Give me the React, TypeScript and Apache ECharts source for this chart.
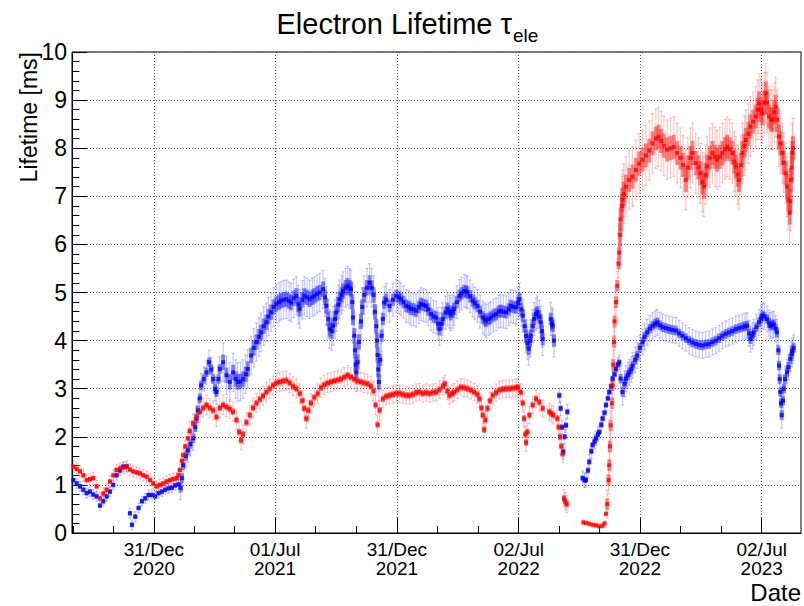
import { useEffect, useRef } from "react";
import * as echarts from "echarts";

const DAY = 86400000;
// Day offsets below are counted from 31 Dec 2020 (UTC).
const ORIGIN = Date.UTC(2020, 11, 31);
const X_MIN = Date.UTC(2020, 7, 30);
const X_MAX = Date.UTC(2023, 7, 30);

const majorTickDates = ["2020-12-31", "2021-07-01", "2021-12-31", "2022-07-02", "2022-12-31", "2023-07-02"];
const majorTickLabels = ["31/Dec\n2020", "01/Jul\n2021", "31/Dec\n2021", "02/Jul\n2022", "31/Dec\n2022", "02/Jul\n2023"];

// Lifetime [ms] of the red series: [day offset, value]
const redLifetime: [number, number][] = [
  [-121, 1.38], [-116, 1.33], [-111, 1.28], [-106, 1.2], [-101, 1.1], [-96, 1.12], [-91, 1.14], [-86, 0.97],
  [-81, 0.72], [-76, 0.82], [-71, 0.9], [-66, 1.07], [-61, 1.2], [-56, 1.31], [-51, 1.34], [-46, 1.36],
  [-41, 1.38], [-36, 1.32], [-31, 1.28], [-26, 1.26], [-21, 1.24], [-16, 1.2], [-11, 1.17], [-6, 1.1],
  [-1, 1.03], [4, 0.97], [9, 1.0], [14, 1.03], [19, 1.07], [24, 1.1], [29, 1.12], [34, 1.14],
  [37, 1.2], [39, 1.31], [42, 1.5], [44, 1.62], [47, 1.8], [51, 1.97], [54, 2.12], [59, 2.28],
  [64, 2.4], [69, 2.52], [74, 2.6], [79, 2.66], [84, 2.6], [89, 2.55], [94, 2.41], [99, 2.6],
  [104, 2.66], [109, 2.62], [114, 2.58], [119, 2.52], [124, 2.35], [128, 2.1], [131, 1.93], [134, 2.05],
  [139, 2.3], [144, 2.45], [149, 2.6], [154, 2.7], [159, 2.78], [164, 2.85], [169, 2.93], [174, 3.0],
  [179, 3.07], [184, 3.12], [189, 3.14], [194, 3.16], [199, 3.17], [204, 3.12], [209, 3.05], [214, 3.0],
  [219, 2.9], [223, 2.75], [226, 2.59], [229, 2.38], [232, 2.55], [236, 2.7], [241, 2.82], [246, 2.9],
  [251, 3.02], [256, 3.08], [261, 3.12], [266, 3.14], [271, 3.16], [276, 3.18], [281, 3.2], [286, 3.24],
  [291, 3.28], [296, 3.24], [301, 3.2], [306, 3.16], [311, 3.14], [316, 3.12], [321, 3.1], [326, 3.05],
  [330, 2.95], [333, 2.66], [336, 2.25], [339, 2.55], [344, 2.79], [349, 2.84], [354, 2.86], [359, 2.88],
  [364, 2.9], [369, 2.9], [374, 2.88], [379, 2.86], [384, 2.86], [389, 2.88], [394, 2.92], [399, 2.93],
  [404, 2.9], [409, 2.92], [414, 2.9], [419, 2.92], [424, 2.93], [429, 2.98], [434, 3.05], [437, 3.1],
  [441, 2.95], [444, 2.86], [448, 2.9], [451, 2.93], [456, 2.98], [461, 3.03], [466, 3.02], [471, 3.0],
  [476, 2.97], [481, 2.93], [486, 2.88], [489, 2.79], [492, 2.6], [494, 2.45], [496, 2.15], [498, 2.35],
  [501, 2.59], [505, 2.75], [509, 2.86], [514, 2.92], [519, 2.97], [524, 2.99], [529, 3.0], [534, 3.0],
  [539, 3.01], [544, 3.02], [547, 3.03], [551, 2.93], [554, 2.7], [556, 2.38], [558, 2.05], [559, 1.88],
  [561, 2.1], [564, 2.45], [569, 2.66], [574, 2.79], [579, 2.72], [584, 2.59],
  [594, 2.52], [597, 2.48], [600, 2.45],
  [606, 2.38], [608, 2.2], [610, 2.0], [612, 1.8], [614, 1.65],
  [616, 0.72], [618, 0.66], [620, 0.6],
  [645, 0.22], [649, 0.21], [654, 0.19], [659, 0.17], [664, 0.16], [669, 0.14], [674, 0.15], [677, 0.2],
  [679, 0.4], [681, 0.6], [683, 1.1], [684, 1.41], [685, 1.8], [686, 2.24], [688, 2.7], [689, 3.07],
  [690, 3.5], [691, 3.97], [692, 4.4], [694, 4.8], [696, 5.14], [698, 5.6], [699, 5.83], [700, 6.2],
  [701, 6.52], [703, 6.8], [704, 6.93], [706, 7.05], [709, 7.2], [714, 7.34], [719, 7.41], [724, 7.55],
  [729, 7.68], [734, 7.76], [739, 7.85], [744, 7.95], [749, 8.1], [754, 8.2], [758, 8.24], [762, 8.15],
  [766, 8.05], [771, 7.97], [776, 8.0], [781, 8.03], [786, 7.9], [791, 7.8], [795, 7.65], [799, 7.34],
  [802, 7.6], [806, 7.8], [809, 7.9], [814, 7.69], [818, 7.6], [821, 7.48], [824, 7.3], [826, 7.2],
  [829, 7.45], [831, 7.62], [835, 7.8], [839, 7.9], [843, 7.82], [846, 7.76], [850, 7.82], [854, 7.9],
  [858, 7.98], [861, 8.03], [865, 7.98], [869, 7.9], [872, 7.72], [874, 7.62], [877, 7.45], [879, 7.34],
  [882, 7.65], [884, 7.9], [887, 8.05], [889, 8.17], [893, 8.3], [896, 8.45], [900, 8.55], [904, 8.66],
  [907, 8.8], [909, 8.93], [912, 8.8], [914, 8.72], [917, 8.95], [919, 9.14], [921, 8.95], [924, 8.66],
  [927, 8.6], [929, 8.59], [932, 8.75], [934, 8.86], [936, 8.59], [939, 8.24], [941, 8.1], [944, 7.9],
  [946, 7.7], [949, 7.48], [951, 7.2], [953, 6.93], [955, 6.66], [956, 6.9], [957, 7.34], [958, 7.6],
  [959, 7.9], [960, 8.0],
];

// Lifetime [ms] of the blue series: [day offset, value]
const blueLifetime: [number, number][] = [
  [-121, 1.1], [-116, 1.03], [-111, 0.97], [-106, 0.9], [-101, 0.83], [-96, 0.86], [-91, 0.8], [-86, 0.76],
  [-81, 0.57], [-76, 0.66], [-71, 0.76], [-66, 0.86], [-61, 1.0], [-56, 1.2], [-51, 1.3], [-46, 1.38],
  [-41, 1.38],
  [-36, 0.41], [-33, 0.17], [-28, 0.34], [-23, 0.52], [-18, 0.66], [-13, 0.72], [-8, 0.79], [-3, 0.79],
  [2, 0.76], [7, 0.83], [12, 0.86], [17, 0.9], [22, 0.93], [27, 0.94], [32, 0.99], [37, 1.01],
  [40, 0.94], [42, 1.14], [44, 1.41], [48, 1.6], [51, 1.72], [55, 1.85], [59, 1.97], [62, 2.2],
  [64, 2.38], [66, 2.55], [69, 2.8], [71, 3.07], [75, 3.2], [79, 3.34], [83, 3.55], [86, 3.4],
  [89, 3.2], [92, 3.0], [94, 2.93], [97, 3.2], [99, 3.41], [104, 3.55], [109, 3.28], [114, 3.14],
  [119, 3.34], [123, 3.2], [126, 3.14], [130, 3.15], [134, 3.2], [138, 3.3], [141, 3.41], [146, 3.69],
  [150, 3.85], [154, 3.97], [158, 4.08], [161, 4.17], [165, 4.3], [169, 4.38], [172, 4.5], [176, 4.59],
  [180, 4.7], [184, 4.76], [188, 4.8], [191, 4.83], [195, 4.85], [199, 4.86], [203, 4.82], [206, 4.79],
  [210, 4.88], [214, 4.93], [217, 4.75], [219, 4.66], [223, 4.85], [226, 4.93], [230, 4.9], [234, 4.86],
  [238, 4.9], [241, 4.93], [245, 4.97], [249, 5.0], [254, 5.07], [257, 4.9], [259, 4.72], [262, 4.45],
  [264, 4.24], [267, 4.2], [269, 4.31], [272, 4.45], [274, 4.59], [277, 4.75], [279, 4.86], [282, 4.95],
  [284, 5.03], [288, 5.1], [291, 5.14], [294, 5.1], [296, 5.07], [298, 4.8], [299, 4.48], [301, 4.1],
  [302, 3.8], [303, 3.5], [304, 3.34], [306, 3.55], [308, 3.97], [311, 4.4], [313, 4.7], [316, 4.95],
  [320, 5.1], [324, 5.2], [327, 5.1], [330, 4.95], [332, 4.6], [334, 4.3], [335, 4.0], [336, 3.7],
  [337, 3.4], [338, 3.14], [340, 3.6], [342, 4.1], [344, 4.45], [346, 4.79], [349, 4.85], [354, 4.72],
  [359, 4.85], [364, 4.93], [368, 4.9], [371, 4.86], [375, 4.8], [379, 4.72], [383, 4.7], [386, 4.66],
  [390, 4.65], [394, 4.62], [398, 4.7], [401, 4.76], [405, 4.74], [409, 4.72], [412, 4.65], [416, 4.55],
  [420, 4.5], [424, 4.48], [427, 4.35], [429, 4.24], [432, 4.35], [434, 4.45], [438, 4.58], [441, 4.66],
  [444, 4.6], [446, 4.55], [449, 4.6], [451, 4.66], [455, 4.8], [459, 4.93], [462, 4.98], [466, 5.03],
  [469, 5.02], [471, 5.0], [475, 4.92], [479, 4.83], [482, 4.78], [486, 4.72], [490, 4.6], [494, 4.48],
  [497, 4.44], [499, 4.41], [503, 4.45], [506, 4.48], [510, 4.52], [514, 4.55], [518, 4.6], [521, 4.62],
  [525, 4.6], [529, 4.59], [533, 4.65], [536, 4.72], [540, 4.7], [544, 4.69], [547, 4.78], [549, 4.86],
  [552, 4.65], [554, 4.52], [557, 4.3], [559, 4.1], [561, 3.95], [563, 3.83], [565, 4.0], [566, 4.1],
  [569, 4.3], [571, 4.45], [574, 4.55], [576, 4.59], [579, 4.5], [581, 4.38], [583, 4.2], [584, 4.03],
  [596, 4.45], [598, 4.35], [599, 4.31], [601, 4.0],
  [609, 2.86], [611, 2.59], [613, 2.2], [615, 1.69], [617, 2.0], [619, 2.24], [621, 2.52],
  [644, 1.14], [647, 1.1], [649, 1.1], [652, 1.3], [654, 1.48], [657, 1.7], [659, 1.83], [662, 1.9],
  [664, 1.97], [667, 2.05], [669, 2.1], [672, 2.25], [674, 2.38], [677, 2.5], [679, 2.66], [682, 2.8],
  [684, 2.93], [687, 3.05], [689, 3.21], [692, 3.3], [694, 3.41], [697, 3.5], [699, 3.55], [701, 3.21],
  [704, 2.93], [707, 3.1], [709, 3.21], [712, 3.28], [714, 3.34], [717, 3.4], [719, 3.48], [723, 3.6],
  [726, 3.69], [730, 3.85], [734, 3.97], [737, 4.08], [741, 4.17], [745, 4.25], [749, 4.31], [753, 4.35],
  [756, 4.38], [760, 4.32], [764, 4.28], [769, 4.26], [774, 4.24], [779, 4.22], [784, 4.21], [789, 4.15],
  [794, 4.1], [799, 4.05], [804, 4.0], [809, 3.96], [814, 3.93], [819, 3.91], [824, 3.9], [829, 3.92],
  [834, 3.93], [839, 3.97], [844, 4.0], [849, 4.05], [854, 4.1], [859, 4.14], [864, 4.17], [869, 4.2],
  [874, 4.24], [879, 4.26], [884, 4.28], [888, 4.3], [891, 4.31], [894, 4.15], [896, 4.03], [899, 4.1],
  [901, 4.17], [905, 4.28], [909, 4.38], [912, 4.46], [914, 4.52], [917, 4.5], [921, 4.45], [924, 4.36],
  [926, 4.31], [929, 4.33], [931, 4.34], [934, 4.25], [936, 4.17], [938, 3.8], [939, 3.48], [940, 3.2],
  [941, 2.93], [942, 2.7], [943, 2.45], [945, 2.75], [946, 3.0], [948, 3.2], [951, 3.34], [953, 3.45],
  [956, 3.62], [958, 3.72], [959, 3.79], [961, 3.85],
];

// Uncertainty [ms] per period: [first day offset, error]
const redErrorBands: [number, number][] = [[-121, 0.12], [54, 0.2], [340, 0.18], [640, 0.05], [680, 0.3], [700, 0.62]];
const blueErrorBands: [number, number][] = [[-121, 0.1], [40, 0.25], [100, 0.4], [340, 0.34], [605, 0.15], [700, 0.27]];

// Scatter of the individual measurements around each value [ms]: [first day offset, half-width]
const redSpreadBands: [number, number][] = [[-121, 0.05], [54, 0.07], [640, 0.02], [680, 0.12], [700, 0.25]];
const blueSpreadBands: [number, number][] = [[-121, 0.05], [40, 0.1], [100, 0.16], [340, 0.13], [605, 0.06], [700, 0.1]];

const FONT = "'Liberation Sans', Arial, Helvetica, sans-serif";

const toTime = (iso: string) => Date.parse(iso + "T00:00:00Z");
const majorTicks = majorTickDates.map(toTime);

// Two minor ticks between consecutive major ticks, continued past both ends.
const minorTicks: number[] = (() => {
  const out: number[] = [];
  const step = (majorTicks[1] - majorTicks[0]) / 3;
  for (let k = 2; k >= 1; k--) out.push(majorTicks[0] - k * step);
  for (let i = 0; i < majorTicks.length - 1; i++) {
    const d = (majorTicks[i + 1] - majorTicks[i]) / 3;
    out.push(majorTicks[i] + d, majorTicks[i] + 2 * d);
  }
  const last = majorTicks[majorTicks.length - 1];
  out.push(last + step, last + 2 * step);
  return out.filter((t) => t > X_MIN && t < X_MAX);
})();

const bandAt = (bands: [number, number][], day: number) => {
  let e = bands[0][1];
  for (const [start, err] of bands) if (day >= start) e = err;
  return e;
};

const buildPoints = (pts: [number, number][], errs: [number, number][], spreads: [number, number][]) =>
  pts.map(([d, v]) => [ORIGIN + d * DAY, v, bandAt(errs, d), bandAt(spreads, d)]);

// Pale error bars plus a half-tone core for the scatter of the measurements.
const errorSeries = (name: string, data: number[][], pale: string, core: string) => ({
  name,
  type: "custom",
  clip: true,
  silent: true,
  data,
  encode: { x: 0, y: 1 },
  renderItem: (_params: any, api: any) => {
    const x = api.value(0);
    const y = api.value(1);
    const e = api.value(2);
    const s = api.value(3);
    const top = api.coord([x, y + e]);
    const bot = api.coord([x, y - e]);
    const ct = api.coord([x, y + s]);
    const cb = api.coord([x, y - s]);
    const st = { stroke: pale, lineWidth: 1.2 };
    return {
      type: "group",
      children: [
        { type: "line", shape: { x1: top[0], y1: top[1], x2: bot[0], y2: bot[1] }, style: st },
        { type: "line", shape: { x1: top[0] - 1.5, y1: top[1], x2: top[0] + 1.5, y2: top[1] }, style: st },
        { type: "line", shape: { x1: bot[0] - 1.5, y1: bot[1], x2: bot[0] + 1.5, y2: bot[1] }, style: st },
        { type: "rect", shape: { x: ct[0] - 2, y: ct[1], width: 4, height: Math.max(1, cb[1] - ct[1]) }, style: { fill: core } },
      ],
    };
  },
});

const markerSeries = (name: string, data: number[][], color: string) => ({
  name,
  type: "scatter",
  data,
  symbol: "rect",
  symbolSize: 4,
  itemStyle: { color },
  silent: true,
});

export default function App() {
  const ref = useRef<HTMLDivElement>(null);

  useEffect(() => {
    if (!ref.current) return;
    const chart = echarts.init(ref.current, undefined, { renderer: "svg" });
    const red = buildPoints(redLifetime, redErrorBands, redSpreadBands);
    const blue = buildPoints(blueLifetime, blueErrorBands, blueSpreadBands);

    const gridLine = { show: true, lineStyle: { color: "#555", width: 1, type: [1, 2] } };

    chart.setOption({
      animation: false,
      backgroundColor: "#ffffff",
      grid: {
        left: 72,
        right: 3,
        top: 52,
        bottom: 73,
        show: true,
        borderColor: "#000",
        borderWidth: 1,
        containLabel: false,
        outerBoundsMode: "none",
      },
      xAxis: [
        {
          type: "value",
          min: X_MIN,
          max: X_MAX,
          axisLine: { show: true, lineStyle: { color: "#000", width: 1 } },
          axisTick: { show: true, inside: true, length: 15, customValues: majorTicks, lineStyle: { color: "#000" } },
          axisLabel: {
            customValues: majorTicks,
            color: "#000",
            fontFamily: FONT,
            fontSize: 19,
            lineHeight: 19,
            margin: 7,
            formatter: (val: number) => {
              const i = majorTicks.findIndex((t) => Math.abs(t - val) < DAY);
              return i >= 0 ? majorTickLabels[i] : "";
            },
          },
          splitLine: gridLine,
        },
        {
          type: "value",
          min: X_MIN,
          max: X_MAX,
          position: "bottom",
          axisLine: { show: false },
          axisTick: { show: true, inside: true, length: 7, customValues: minorTicks, lineStyle: { color: "#000" } },
          axisLabel: { show: false },
          splitLine: { show: false },
        },
      ],
      yAxis: {
        type: "value",
        min: 0,
        max: 10,
        interval: 1,
        axisLine: { show: true, lineStyle: { color: "#000", width: 1 } },
        axisTick: { show: true, inside: true, length: 15, lineStyle: { color: "#000" } },
        minorTick: { show: true, splitNumber: 5, length: 7.5, lineStyle: { color: "#000" } },
        axisLabel: { color: "#000", fontFamily: FONT, fontSize: 23, margin: 5 },
        splitLine: gridLine,
      },
      graphic: [
        {
          type: "text",
          x: 512,
          y: 24,
          style: { text: "Electron Lifetime τ", font: `29px ${FONT}`, fill: "#000", align: "right", verticalAlign: "middle" },
        },
        {
          type: "text",
          x: 513,
          y: 35,
          style: { text: "ele", font: `19px ${FONT}`, fill: "#000", align: "left", verticalAlign: "middle" },
        },
        {
          type: "text",
          x: 29,
          y: 52,
          rotation: Math.PI / 2,
          style: { text: "Lifetime [ms]", font: `23px ${FONT}`, fill: "#000", align: "right", verticalAlign: "middle" },
        },
        {
          type: "text",
          x: 801,
          y: 592,
          style: { text: "Date", font: `24px ${FONT}`, fill: "#000", align: "right", verticalAlign: "middle" },
        },
      ],
      series: [
        errorSeries("blue-err", blue, "rgba(70,70,255,0.3)", "rgba(40,40,255,0.55)"),
        errorSeries("red-err", red, "rgba(255,70,70,0.3)", "rgba(255,40,40,0.55)"),
        markerSeries("blue", blue, "#0000ff"),
        markerSeries("red", red, "#ff0000"),
      ],
    });

    return () => chart.dispose();
  }, []);

  return <div ref={ref} style={{ position: "fixed", left: 0, top: 0, width: 804, height: 606 }} />;
}
